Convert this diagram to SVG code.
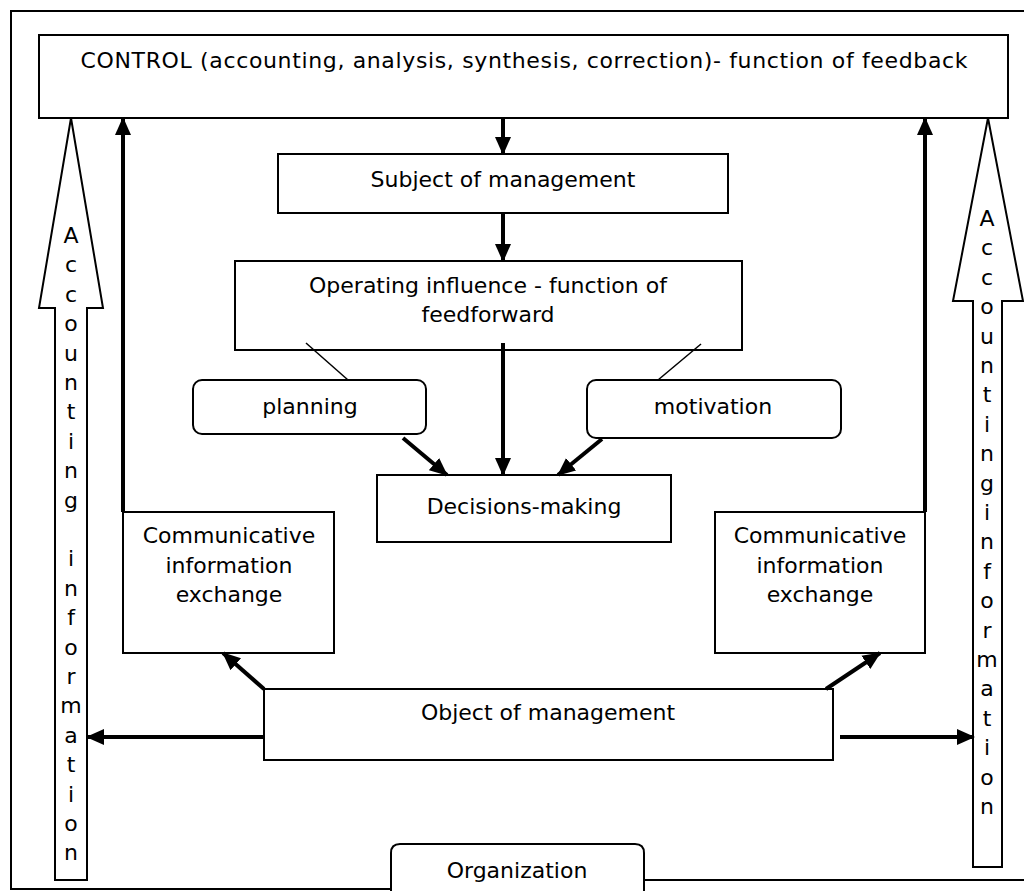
<svg xmlns="http://www.w3.org/2000/svg" width="1024" height="891" viewBox="0 0 1024 891">
<style>
.box{fill:#fff;stroke:#000;stroke-width:2}
.frame{fill:none;stroke:#000;stroke-width:2}
.t{font-family:"DejaVu Sans",Verdana,sans-serif;font-size:22px;fill:#000;text-anchor:middle}
.v{font-family:"DejaVu Sans",Verdana,sans-serif;font-size:22px;fill:#000;text-anchor:middle}
.arr{fill:none;stroke:#000;stroke-width:4;marker-end:url(#ah)}
.thin{fill:none;stroke:#000;stroke-width:1.5}
.block{fill:#fff;stroke:#000;stroke-width:2;stroke-linejoin:miter}
</style>
<defs>
<marker id="ah" markerUnits="userSpaceOnUse" markerWidth="18" markerHeight="18" viewBox="0 0 18 18" refX="17" refY="9" orient="auto">
<path d="M0,1 L18,9 L0,17 Z" fill="#000"/>
</marker>
</defs>
<rect width="1024" height="891" fill="#fff"/>
<g id="frame">
<path class="frame" d="M1024,11 H11 V889 H391"/>
<path class="frame" d="M644,880 H1024"/>
</g>
<g id="control">
<rect class="box" x="39" y="35" width="969" height="83"/>
<text class="t" x="524" y="68" textLength="887" lengthAdjust="spacing">CONTROL (accounting, analysis, synthesis, correction)- function of feedback</text>
</g>
<g id="accounting-left">
<polygon class="block" points="71,118 103,308 87,308 87,880 55,880 55,308 39,308"/>
<text class="v"><tspan x="71" y="243">A</tspan><tspan x="71" dy="29.4">c</tspan><tspan x="71" dy="29.4">c</tspan><tspan x="71" dy="29.4">o</tspan><tspan x="71" dy="29.4">u</tspan><tspan x="71" dy="29.4">n</tspan><tspan x="71" dy="29.4">t</tspan><tspan x="71" dy="29.4">i</tspan><tspan x="71" dy="29.4">n</tspan><tspan x="71" dy="29.4">g</tspan><tspan x="71" dy="58.8">i</tspan><tspan x="71" dy="29.4">n</tspan><tspan x="71" dy="29.4">f</tspan><tspan x="71" dy="29.4">o</tspan><tspan x="71" dy="29.4">r</tspan><tspan x="71" dy="29.4">m</tspan><tspan x="71" dy="29.4">a</tspan><tspan x="71" dy="29.4">t</tspan><tspan x="71" dy="29.4">i</tspan><tspan x="71" dy="29.4">o</tspan><tspan x="71" dy="29.4">n</tspan></text>
</g>
<g id="accounting-right">
<polygon class="block" points="988,118 1023,301 1002,301 1002,867 973,867 973,301 953,301"/>
<text class="v"><tspan x="987" y="226">A</tspan><tspan x="987" dy="29.4">c</tspan><tspan x="987" dy="29.4">c</tspan><tspan x="987" dy="29.4">o</tspan><tspan x="987" dy="29.4">u</tspan><tspan x="987" dy="29.4">n</tspan><tspan x="987" dy="29.4">t</tspan><tspan x="987" dy="29.4">i</tspan><tspan x="987" dy="29.4">n</tspan><tspan x="987" dy="29.4">g</tspan><tspan x="987" dy="29.4">i</tspan><tspan x="987" dy="29.4">n</tspan><tspan x="987" dy="29.4">f</tspan><tspan x="987" dy="29.4">o</tspan><tspan x="987" dy="29.4">r</tspan><tspan x="987" dy="29.4">m</tspan><tspan x="987" dy="29.4">a</tspan><tspan x="987" dy="29.4">t</tspan><tspan x="987" dy="29.4">i</tspan><tspan x="987" dy="29.4">o</tspan><tspan x="987" dy="29.4">n</tspan></text>
</g>
<g id="subject">
<rect class="box" x="278" y="154" width="450" height="59"/>
<text class="t" x="503" y="187">Subject of management</text>
</g>
<g id="operating">
<rect class="box" x="235" y="261" width="507" height="89"/>
<text class="t" x="488" y="293">Operating influence - function of</text>
<text class="t" x="488" y="322">feedforward</text>
</g>
<g id="planning">
<rect class="box" x="193" y="380" width="233" height="54" rx="9"/>
<text class="t" x="310" y="414">planning</text>
</g>
<g id="motivation">
<rect class="box" x="587" y="380" width="254" height="58" rx="9"/>
<text class="t" x="713" y="414">motivation</text>
</g>
<g id="decisions">
<rect class="box" x="377" y="475" width="294" height="67"/>
<text class="t" x="524" y="514">Decisions-making</text>
</g>
<g id="comm-left">
<rect class="box" x="123" y="512" width="211" height="141"/>
<text class="t" x="229" y="543">Communicative</text>
<text class="t" x="229" y="573">information</text>
<text class="t" x="229" y="602">exchange</text>
</g>
<g id="comm-right">
<rect class="box" x="715" y="512" width="210" height="141"/>
<text class="t" x="820" y="543">Communicative</text>
<text class="t" x="820" y="573">information</text>
<text class="t" x="820" y="602">exchange</text>
</g>
<g id="object">
<rect class="box" x="264" y="689" width="569" height="71"/>
<text class="t" x="548" y="720">Object of management</text>
</g>
<g id="organization">
<path class="box" d="M391,891 V853 Q391,844 400,844 H635 Q644,844 644,853 V891"/>
<text class="t" x="517" y="878">Organization</text>
</g>
<g id="connectors">
<line class="arr" x1="503" y1="118" x2="503" y2="154"/>
<line class="arr" x1="503" y1="213" x2="503" y2="261"/>
<line class="arr" x1="503" y1="343" x2="503" y2="475"/>
<line class="thin" x1="306" y1="343" x2="348" y2="380"/>
<line class="thin" x1="701" y1="344" x2="658" y2="380"/>
<line class="arr" x1="403" y1="438" x2="447" y2="475"/>
<line class="arr" x1="602" y1="439" x2="558" y2="475"/>
<line class="arr" x1="264" y1="689" x2="223" y2="653"/>
<line class="arr" x1="826" y1="689" x2="880" y2="653"/>
<line class="arr" x1="123" y1="512" x2="123" y2="118"/>
<line class="arr" x1="925" y1="512" x2="925" y2="118"/>
<line class="arr" x1="264" y1="737" x2="87" y2="737"/>
<line class="arr" x1="840" y1="737" x2="974" y2="737"/>
</g>
</svg>
